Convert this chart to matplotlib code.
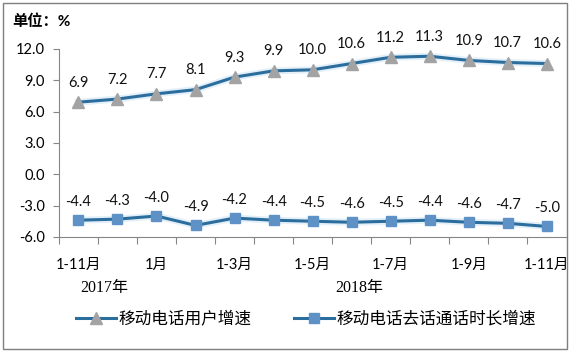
import numpy as np
import matplotlib
matplotlib.use("Agg")
import matplotlib.pyplot as plt
from matplotlib.patches import Rectangle

plt.rcParams['font.family'] = ['Lato', 'Noto Sans CJK SC', 'DejaVu Sans']

# data
users = [6.9, 7.2, 7.7, 8.1, 9.3, 9.9, 10.0, 10.6, 11.2, 11.3, 10.9, 10.7, 10.6]
calls = [-4.4, -4.3, -4.0, -4.9, -4.2, -4.4, -4.5, -4.6, -4.5, -4.4, -4.6, -4.7, -5.0]
tick_pos = [0, 2, 4, 6, 8, 10, 12]
tick_lab = ["1-11月", "1月", "1-3月", "1-5月", "1-7月", "1-9月", "1-11月"]
years = ["2017年", "2018年"]
year_pos = [0.65, 7.2]
name_users = "移动电话用户增速"
name_calls = "移动电话去话通话时长增速"

x = np.arange(len(users))
line_col = "#2B6D9C"

fig = plt.figure(figsize=(5.72, 3.52), dpi=100)
ax = fig.add_axes([0.103, 0.327, 0.887, 0.534])

# soft glow under lines
ax.plot(x, users, color="#e3f0fa", lw=5, zorder=1)
ax.plot(x, calls, color="#e3f0fa", lw=5, zorder=1)
ax.plot(x, users, color=line_col, lw=2.2, marker="^", ms=8,
        mfc="#A3A3A3", mec="#A3A3A3", zorder=3, label=name_users)
ax.plot(x, calls, color=line_col, lw=2.2, marker="s", ms=7,
        mfc="#5E92C6", mec="#5E92C6", zorder=3, label=name_calls)

for xi, v in zip(x, users):
    ax.annotate(f"{v:.1f}", (xi, v), xytext=(0, 14), textcoords="offset points",
                ha="center", va="center", fontsize=10.5, color="#111111")
for xi, v in zip(x, calls):
    ax.annotate(f"{v:.1f}", (xi, v), xytext=(0, 13), textcoords="offset points",
                ha="center", va="center", fontsize=10.5, color="#111111")

ax.set_xlim(-0.5, 12.5)
ax.set_ylim(-6, 12)
ax.set_yticks(np.arange(-6, 12.1, 3))
ax.set_yticklabels([f"{v:.1f}" for v in np.arange(-6, 12.1, 3)], fontsize=10.5)

ax.set_xticks(np.arange(-0.5, 12.0, 1))
ax.set_xticklabels([])
ax.tick_params(axis="x", which="major", length=5, color="#868686", direction="out")
ax.set_xticks(tick_pos, minor=True)
ax.set_xticklabels(tick_lab, minor=True, fontsize=10.5)
ax.tick_params(axis="x", which="minor", length=0, pad=15)
ax.tick_params(axis="y", length=4, color="#868686", pad=6)

for yp, yl in zip(year_pos, years):
    ax.text(yp, -0.27, yl, transform=ax.get_xaxis_transform(), ha="center", va="center",
            fontsize=11.5, family=["Liberation Serif", "Noto Sans CJK SC"])

for s in ["top", "right"]:
    ax.spines[s].set_visible(False)
for s in ["left", "bottom"]:
    ax.spines[s].set_color("#868686")

fig.text(0.021, 0.937, "单位：%", fontsize=11, fontweight="bold", va="center", ha="left")

leg = fig.legend(loc="center", bbox_to_anchor=(0.535, 0.095), ncol=2, frameon=False,
                 fontsize=12, handlelength=2.4, columnspacing=2.6, handletextpad=0.1)

fig.patches.append(Rectangle((0.005, 0.008), 0.986, 0.983, transform=fig.transFigure,
                             fill=False, ec="#7f7f7f", lw=1))

fig.savefig("out.png", dpi=100)
